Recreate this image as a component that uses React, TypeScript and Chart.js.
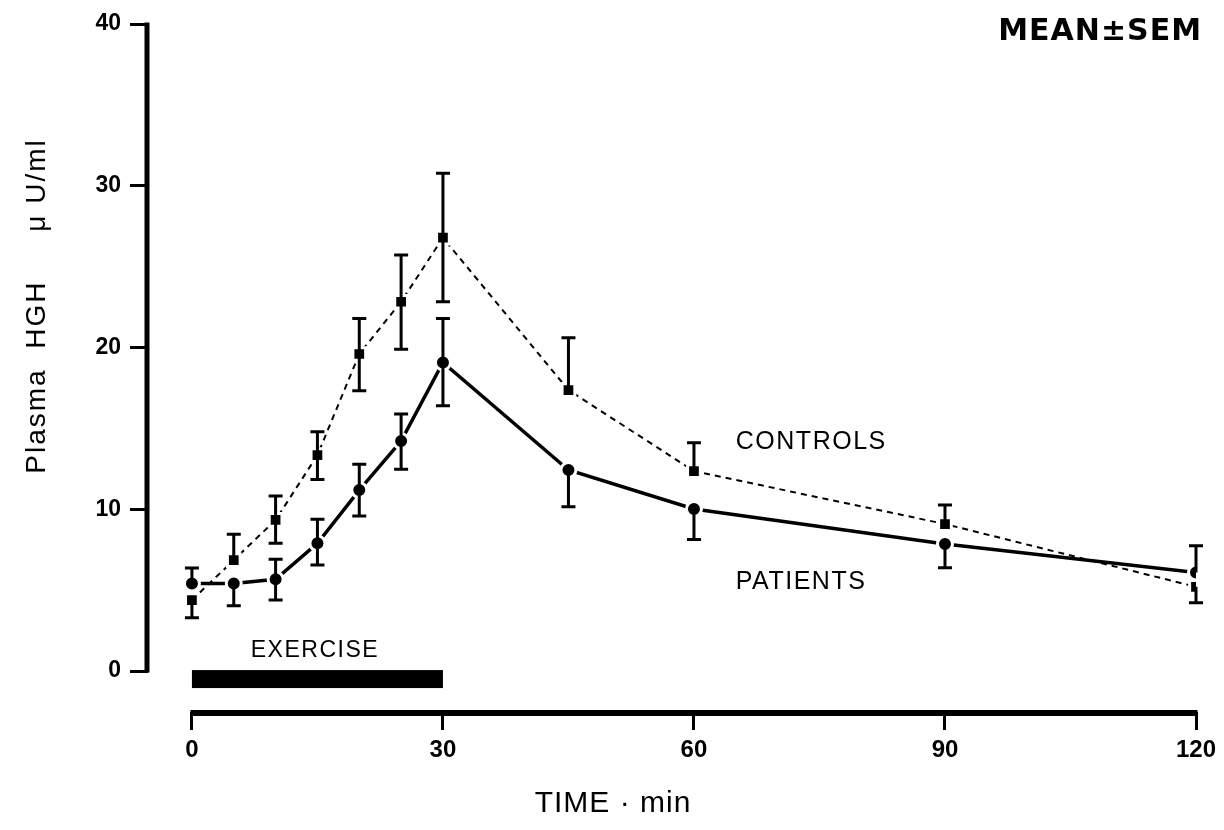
import React, { useEffect, useRef } from "react";
import { Chart, registerables } from "chart.js";

Chart.register(...registerables);

// ---- Data ----
const TIMES = [0, 5, 10, 15, 20, 25, 30, 45, 60, 90, 120];

const CONTROLS_MEAN = [4.39, 6.86, 9.34, 13.35, 19.6, 22.83, 26.79, 17.37, 12.36, 9.09, 5.21];
const CONTROLS_SEM_UP = [0, 1.6, 1.48, 1.44, 2.2, 2.89, 3.98, 3.24, 1.75, 1.17, 0];
const CONTROLS_SEM_DOWN = [1.1, 0, 1.44, 1.5, 2.27, 2.94, 3.96, 0, 0, 0, 0.99];

const PATIENTS_MEAN = [5.42, 5.42, 5.67, 7.9, 11.19, 14.22, 19.08, 12.43, 10.02, 7.85, 6.1];
const PATIENTS_SEM_UP = [0.95, 0, 1.24, 1.48, 1.6, 1.67, 2.72, 0, 0, 0, 1.65];
const PATIENTS_SEM_DOWN = [0, 1.38, 1.28, 1.35, 1.6, 1.75, 2.68, 2.27, 1.88, 1.46, 0];

const X_TICKS = [0, 30, 60, 90, 120];
const Y_TICKS = [0, 10, 20, 30, 40];
const EXERCISE_PERIOD = [0, 30];

const Y_TITLE = "Plasma  HGH     \u03bc U/ml";
const X_TITLE = "TIME \u00b7 min";
const NOTE = "MEAN\u00b1SEM";
const LABEL_CONTROLS = "CONTROLS";
const LABEL_PATIENTS = "PATIENTS";
const LABEL_EXERCISE = "EXERCISE";

const FONT = "'Liberation Sans', Arial, Helvetica, sans-serif";

const ERRORS = [
  { up: CONTROLS_SEM_UP, down: CONTROLS_SEM_DOWN },
  { up: PATIENTS_SEM_UP, down: PATIENTS_SEM_DOWN },
];

const decorPlugin = {
  id: "decor",
  beforeDatasetsDraw(chart: any) {
    const { ctx, chartArea, scales } = chart;
    const xs = scales.x;
    const ys = scales.y;
    ctx.save();
    ctx.strokeStyle = "#000";
    ctx.fillStyle = "#000";
    ctx.lineCap = "butt";
    ctx.lineWidth = 5;
    ctx.beginPath();
    ctx.moveTo(chartArea.left - 1, ys.getPixelForValue(Y_TICKS[Y_TICKS.length - 1]) - 1.5);
    ctx.lineTo(chartArea.left - 1, ys.getPixelForValue(Y_TICKS[0]) + 1.5);
    ctx.stroke();
    ctx.lineWidth = 6;
    ctx.beginPath();
    ctx.moveTo(xs.getPixelForValue(X_TICKS[0]) - 1.5, chartArea.bottom + 1);
    ctx.lineTo(xs.getPixelForValue(X_TICKS[X_TICKS.length - 1]) + 1.5, chartArea.bottom + 1);
    ctx.stroke();
    const x0 = xs.getPixelForValue(EXERCISE_PERIOD[0]);
    const x1 = xs.getPixelForValue(EXERCISE_PERIOD[1]);
    const yTop = ys.getPixelForValue(0) - 1;
    ctx.fillRect(x0, yTop, x1 - x0, 18);
    ctx.restore();
  },
  afterDatasetsDraw(chart: any) {
    const { ctx, scales } = chart;
    const xs = scales.x;
    const ys = scales.y;
    ctx.save();
    ctx.strokeStyle = "#000";
    ctx.lineWidth = 3;
    ctx.lineCap = "butt";
    const cap = 7;
    chart.data.datasets.forEach((ds: any, di: number) => {
      const err = ERRORS[di];
      ds.data.forEach((p: any, i: number) => {
        const px = xs.getPixelForValue(p.x);
        const py = ys.getPixelForValue(p.y);
        const segs = [err.up[i], -err.down[i]];
        segs.forEach((d) => {
          if (!d) return;
          const pe = ys.getPixelForValue(p.y + d);
          ctx.beginPath();
          ctx.moveTo(px, py);
          ctx.lineTo(px, pe);
          ctx.moveTo(px - cap, pe);
          ctx.lineTo(px + cap, pe);
          ctx.stroke();
        });
      });
    });
    ctx.restore();
  },
  afterDraw(chart: any) {
    const { ctx, scales } = chart;
    const xs = scales.x;
    const ys = scales.y;
    ctx.save();
    ctx.fillStyle = "#000";
    // y title (rotated)
    ctx.save();
    ctx.translate(37, 306);
    ctx.rotate(-Math.PI / 2);
    ctx.font = `28px ${FONT}`;
    (ctx as any).letterSpacing = "2px";
    ctx.textAlign = "center";
    ctx.textBaseline = "middle";
    ctx.fillText(Y_TITLE, 0, 0);
    ctx.restore();
    // x title
    ctx.font = `30px ${FONT}`;
    (ctx as any).letterSpacing = "1px";
    ctx.textAlign = "center";
    ctx.textBaseline = "alphabetic";
    ctx.fillText(X_TITLE, 613, 812);
    // MEAN ± SEM
    ctx.font = `bold 30px 'DejaVu Sans', ${FONT}`;
    (ctx as any).letterSpacing = "1px";
    ctx.textAlign = "right";
    ctx.fillText(NOTE, 1202, 40);
    // series labels
    ctx.font = `25px ${FONT}`;
    (ctx as any).letterSpacing = "1.5px";
    ctx.textAlign = "left";
    ctx.fillText(LABEL_CONTROLS, xs.getPixelForValue(65), ys.getPixelForValue(13.7));
    ctx.fillText(LABEL_PATIENTS, xs.getPixelForValue(65), ys.getPixelForValue(5.07));
    ctx.font = `23px ${FONT}`;
    (ctx as any).letterSpacing = "1.5px";
    ctx.textAlign = "center";
    ctx.fillText(LABEL_EXERCISE, xs.getPixelForValue(14.7), ys.getPixelForValue(0.87));
    ctx.restore();
  },
};

export default function App() {
  const ref = useRef<HTMLCanvasElement | null>(null);
  useEffect(() => {
    if (!ref.current) return;
    const chart = new Chart(ref.current, {
      type: "line",
      data: {
        datasets: [
          {
            label: LABEL_CONTROLS,
            data: TIMES.map((t, i) => ({ x: t, y: CONTROLS_MEAN[i] })),
            borderColor: "#000",
            borderWidth: 2,
            borderDash: [6, 5],
            pointStyle: "rect",
            pointRadius: 9,
            pointBorderWidth: 3,
            pointBackgroundColor: "#000",
            pointBorderColor: "#fff",
            fill: false,
            tension: 0,
          },
          {
            label: LABEL_PATIENTS,
            data: TIMES.map((t, i) => ({ x: t, y: PATIENTS_MEAN[i] })),
            borderColor: "#000",
            borderWidth: 3.5,
            pointStyle: "circle",
            pointRadius: 7.5,
            pointBorderWidth: 3,
            pointBackgroundColor: "#000",
            pointBorderColor: "#fff",
            fill: false,
            tension: 0,
          },
        ],
      },
      options: {
        animation: false,
        responsive: true,
        maintainAspectRatio: false,
        layout: { padding: { left: 0, top: 24, right: 28, bottom: 0 } },
        plugins: { legend: { display: false }, tooltip: { enabled: false } },
        scales: {
          x: {
            type: "linear",
            min: -5.25,
            max: 120,
            afterBuildTicks: (s: any) => {
              s.ticks = X_TICKS.map((v) => ({ value: v }));
            },
            afterFit: (s: any) => {
              s.height = 118;
            },
            border: { display: false },
            grid: {
              drawOnChartArea: false,
              drawTicks: true,
              tickLength: 18,
              tickWidth: 3,
              tickColor: "#000",
            },
            ticks: {
              autoSkip: false,
              maxRotation: 0,
              padding: 6,
              color: "#000",
              font: { family: FONT, size: 24, weight: "bold" },
            },
          },
          y: {
            type: "linear",
            min: -2.53,
            max: 40,
            afterBuildTicks: (s: any) => {
              s.ticks = Y_TICKS.map((v) => ({ value: v }));
            },
            afterFit: (s: any) => {
              s.width = 148;
            },
            border: { display: false },
            grid: {
              drawOnChartArea: false,
              drawTicks: true,
              tickLength: 18,
              tickWidth: 3,
              tickColor: "#000",
            },
            ticks: {
              autoSkip: false,
              padding: 9,
              color: "#000",
              font: { family: FONT, size: 23, weight: "bold" },
            },
          },
        },
      },
      plugins: [decorPlugin],
    } as any);
    return () => chart.destroy();
  }, []);
  return (
    <div style={{ position: "fixed", left: 0, top: 0, width: 1224, height: 830, background: "#fff" }}>
      <canvas ref={ref} />
    </div>
  );
}
